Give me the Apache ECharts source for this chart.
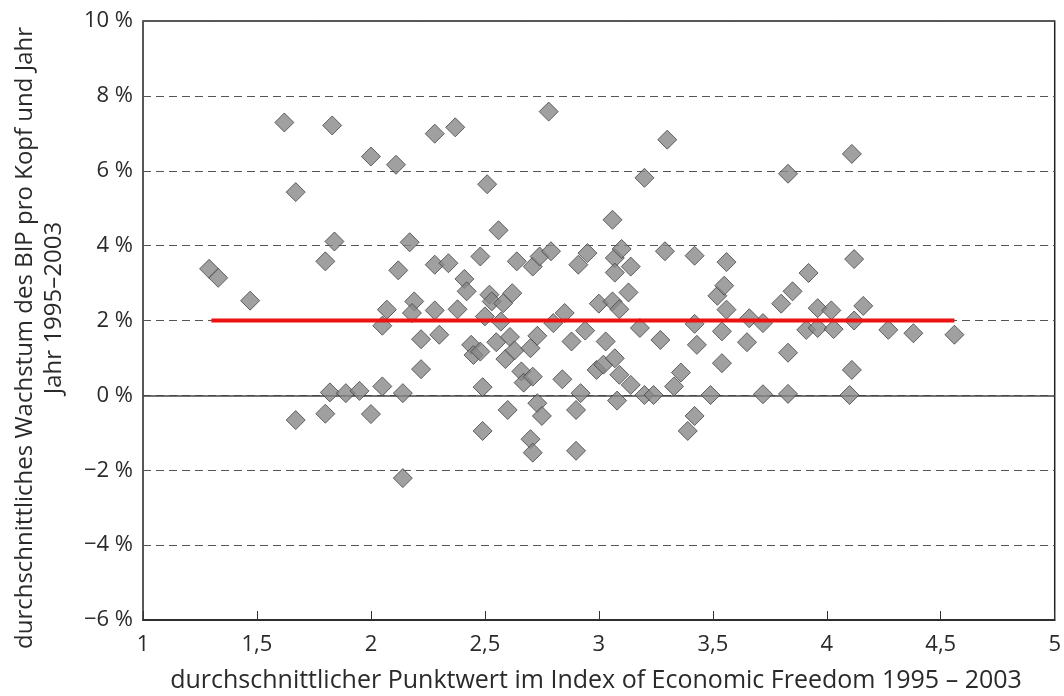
<!DOCTYPE html>
<html>
<head>
<meta charset="utf-8">
<script src="https://cdn.jsdelivr.net/npm/echarts@6/dist/echarts.min.js"></script>
<style>
  html, body {margin: 0; padding: 0; background: #fff;}
  #chart {width: 1064px; height: 696px;}
</style>
</head>
<body>
<div id="chart"></div>
<script>
// ----------- Freiheitsindex vs. Wachstum -----------

// x: durchschnittlicher Punktwert im Index of Economic Freedom
var freedomScores = [
  1.29, 1.33, 1.47, 1.62, 1.67, 1.67, 1.80, 1.80, 1.83, 1.84,
  1.82, 1.89, 1.95, 2.00, 2.00, 2.05, 2.05, 2.07, 2.11, 2.12,
  2.14, 2.14, 2.17, 2.19, 2.18, 2.22, 2.22, 2.28, 2.28, 2.28,
  2.30, 2.34, 2.37, 2.38, 2.41, 2.42, 2.44, 2.45, 2.48, 2.48,
  2.49, 2.49, 2.50, 2.51, 2.52, 2.53, 2.55, 2.56, 2.57, 2.58,
  2.59, 2.60, 2.61, 2.62, 2.63, 2.64, 2.66, 2.67, 2.70, 2.70,
  2.71, 2.71, 2.71, 2.73, 2.73, 2.74, 2.75, 2.78, 2.79, 2.80,
  2.84, 2.85, 2.88, 2.90, 2.90, 2.91, 2.92, 2.94, 2.95, 2.99,
  3.00, 3.03, 3.02, 3.06, 3.07, 3.07, 3.06, 3.09, 3.07, 3.08,
  3.09, 3.10, 3.13, 3.14, 3.14, 3.18, 3.20, 3.20, 3.24, 3.27,
  3.29, 3.30, 3.33, 3.36, 3.39, 3.42, 3.42, 3.42, 3.43, 3.49,
  3.52, 3.54, 3.54, 3.55, 3.56, 3.56, 3.65, 3.66, 3.72, 3.72,
  3.80, 3.83, 3.83, 3.83, 3.85, 3.91, 3.92, 3.96, 3.96, 4.02,
  4.03, 4.11, 4.12, 4.12, 4.16, 4.11, 4.10, 4.27, 4.38, 4.56
];

// y: durchschnittliches Wachstum des BIP pro Kopf (%)
var growthRates = [
  3.38, 3.14, 2.53, 7.29, 5.43, -0.66, 3.58, -0.49, 7.21, 4.11,
  0.08, 0.06, 0.12, 6.38, -0.50, 0.24, 1.86, 2.29, 6.16, 3.34,
  0.06, -2.21, 4.09, 2.51, 2.20, 1.50, 0.70, 3.49, 6.99, 2.27,
  1.62, 3.53, 7.16, 2.30, 3.11, 2.78, 1.35, 1.08, 1.17, 3.71,
  0.22, -0.95, 2.11, 5.64, 2.69, 2.51, 1.42, 4.41, 1.97, 2.46,
  0.97, -0.39, 1.56, 2.73, 1.20, 3.58, 0.64, 0.34, 1.26, -1.17,
  -1.53, 0.50, 3.44, 1.59, -0.21, 3.71, -0.55, 7.58, 3.85, 1.93,
  0.43, 2.20, 1.44, -0.39, -1.48, 3.49, 0.06, 1.73, 3.80, 0.68,
  2.45, 1.44, 0.82, 4.69, 3.67, 3.28, 2.51, 2.30, 0.99, -0.14,
  0.55, 3.91, 2.75, 3.44, 0.28, 1.80, 5.81, 0.01, 0.01, 1.48,
  3.85, 6.83, 0.24, 0.61, -0.95, 3.73, 1.91, -0.55, 1.35, 0.01,
  2.66, 1.71, 0.86, 2.93, 3.56, 2.29, 1.42, 2.06, 1.93, 0.03,
  2.45, 5.92, 1.14, 0.04, 2.78, 1.75, 3.27, 2.33, 1.80, 2.27,
  1.77, 6.45, 3.64, 2.00, 2.39, 0.68, 0.01, 1.75, 1.66, 1.62
];

// rote Linie (Mittelwert ~2 %)
var meanLineX = [1.3, 4.56];
var meanLineY = [2, 2];

var textColor = '#2a2a2a';
var labelFont = '"Open Sans", "Noto Sans", sans-serif';

var points = freedomScores.map(function (x, i) { return [x, growthRates[i]]; });
var meanLine = meanLineX.map(function (x, i) { return [x, meanLineY[i]]; });

var chart = echarts.init(document.getElementById('chart'));

var option = {
  backgroundColor: '#fff',
  animation: false,
  grid: {
    left: 143, right: 7, top: 21, bottom: 76,
    show: true, borderColor: '#222', borderWidth: 1.5
  },
  xAxis: {
    type: 'value',
    min: 1, max: 5, interval: 0.5,
    axisLine: {show: true, onZero: false, lineStyle: {color: '#222', width: 1.5}},
    axisTick: {show: true, inside: true, length: 9, lineStyle: {color: '#333'}},
    splitLine: {show: false},
    axisLabel: {
      color: textColor, fontSize: 22, fontFamily: labelFont, margin: 14,
      formatter: function (v) { return String(v).replace('.', ','); }
    }
  },
  yAxis: {
    type: 'value',
    min: -6, max: 10, interval: 2,
    axisLine: {show: false},
    axisTick: {show: false},
    splitLine: {show: true, lineStyle: {color: '#555', type: [8, 5], width: 1}},
    axisLabel: {
      color: textColor, fontSize: 22, fontFamily: labelFont, margin: 10,
      formatter: function (v) { return String(v).replace('-', '\u2212') + ' %'; }
    }
  },
  graphic: [
    {
      type: 'text', x: 25, y: 338, rotation: Math.PI / 2,
      style: {
        text: 'durchschnittliches Wachstum des BIP pro Kopf und Jahr',
        fill: textColor, font: '24px ' + labelFont,
        textAlign: 'center', textVerticalAlign: 'middle'
      }
    },
    {
      type: 'text', x: 54, y: 308, rotation: Math.PI / 2,
      style: {
        text: 'Jahr 1995\u20132003',
        fill: textColor, font: '24px ' + labelFont,
        textAlign: 'center', textVerticalAlign: 'middle'
      }
    },
    {
      type: 'text', x: 596, y: 681,
      style: {
        text: 'durchschnittlicher Punktwert im Index of Economic Freedom 1995 \u2013 2003',
        fill: textColor, font: '25px ' + labelFont,
        textAlign: 'center', textVerticalAlign: 'middle'
      }
    }
  ],
  series: [
    {
      name: 'Länder',
      type: 'scatter',
      symbol: 'diamond',
      symbolSize: 19,
      itemStyle: {color: '#888', borderColor: '#444', borderWidth: 1},
      data: points,
      z: 3,
      markLine: {
        silent: true,
        symbol: 'none',
        label: {show: false},
        lineStyle: {color: '#444', type: 'solid', width: 1.5},
        data: [{yAxis: 0}],
        z: 1
      }
    },
    {
      name: 'Mittelwert',
      type: 'line',
      symbol: 'none',
      lineStyle: {color: '#ee1111', width: 4},
      data: meanLine,
      z: 5
    }
  ]
};

chart.setOption(option);
</script>
</body>
</html>
